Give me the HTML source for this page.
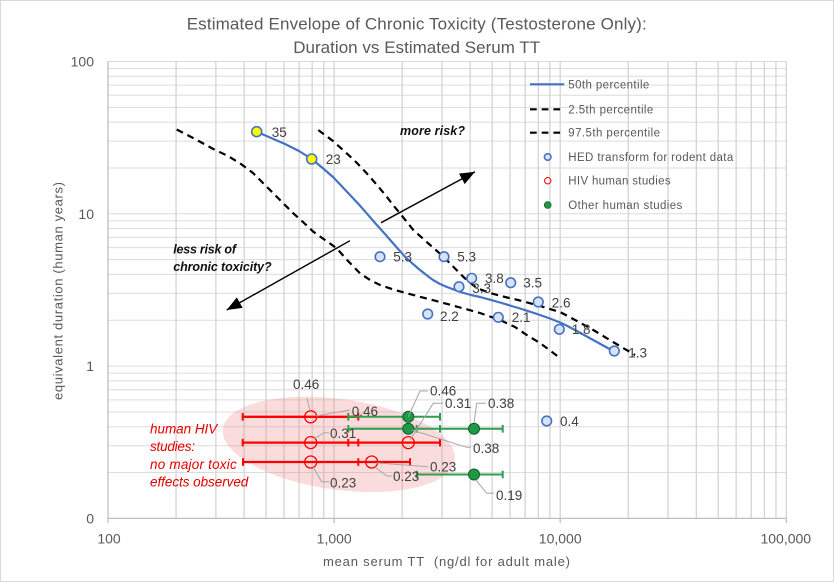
<!DOCTYPE html>
<html><head><meta charset="utf-8"><style>
html,body{margin:0;padding:0;background:#fff;}
svg{display:block;}
text{font-family:"Liberation Sans",Arial,sans-serif;}
</style></head><body>
<svg width="834" height="582" viewBox="0 0 834 582" xmlns="http://www.w3.org/2000/svg">
<defs>
<marker id="ah" markerUnits="userSpaceOnUse" markerWidth="16" markerHeight="14" refX="15" refY="7" orient="auto">
<path d="M0,1 L15,7 L0,13 z" fill="#000"/>
</marker>
</defs>
<rect x="0.5" y="0.5" width="833" height="581" fill="#fff" stroke="#d9d9d9"/>
<!-- horizontal grid -->
<g stroke="#dcdcdc" stroke-width="1">
<line x1="108" x2="786.3" y1="68.47" y2="68.47"/><line x1="108" x2="786.3" y1="76.26" y2="76.26"/><line x1="108" x2="786.3" y1="85.09" y2="85.09"/><line x1="108" x2="786.3" y1="95.29" y2="95.29"/><line x1="108" x2="786.3" y1="107.35" y2="107.35"/><line x1="108" x2="786.3" y1="122.11" y2="122.11"/><line x1="108" x2="786.3" y1="141.13" y2="141.13"/><line x1="108" x2="786.3" y1="167.95" y2="167.95"/><line x1="108" x2="786.3" y1="213.8" y2="213.8"/>
<line x1="108" x2="786.3" y1="220.77" y2="220.77"/><line x1="108" x2="786.3" y1="228.56" y2="228.56"/><line x1="108" x2="786.3" y1="237.39" y2="237.39"/><line x1="108" x2="786.3" y1="247.59" y2="247.59"/><line x1="108" x2="786.3" y1="259.65" y2="259.65"/><line x1="108" x2="786.3" y1="274.41" y2="274.41"/><line x1="108" x2="786.3" y1="293.43" y2="293.43"/><line x1="108" x2="786.3" y1="320.25" y2="320.25"/><line x1="108" x2="786.3" y1="366.1" y2="366.1"/>
<line x1="108" x2="786.3" y1="373.07" y2="373.07"/><line x1="108" x2="786.3" y1="380.86" y2="380.86"/><line x1="108" x2="786.3" y1="389.69" y2="389.69"/><line x1="108" x2="786.3" y1="399.89" y2="399.89"/><line x1="108" x2="786.3" y1="411.95" y2="411.95"/><line x1="108" x2="786.3" y1="426.71" y2="426.71"/><line x1="108" x2="786.3" y1="445.73" y2="445.73"/><line x1="108" x2="786.3" y1="472.55" y2="472.55"/>
<line x1="108" x2="786.3" y1="61.5" y2="61.5"/>
</g>
<!-- vertical grid -->
<g stroke="#d4d4d4" stroke-width="1.3">
<line y1="61.5" y2="518.4" x1="176.06" x2="176.06"/><line y1="61.5" y2="518.4" x1="215.88" x2="215.88"/><line y1="61.5" y2="518.4" x1="244.13" x2="244.13"/><line y1="61.5" y2="518.4" x1="266.04" x2="266.04"/><line y1="61.5" y2="518.4" x1="283.94" x2="283.94"/><line y1="61.5" y2="518.4" x1="299.08" x2="299.08"/><line y1="61.5" y2="518.4" x1="312.19" x2="312.19"/><line y1="61.5" y2="518.4" x1="323.75" x2="323.75"/><line y1="61.5" y2="518.4" x1="334.1" x2="334.1"/>
<line y1="61.5" y2="518.4" x1="402.16" x2="402.16"/><line y1="61.5" y2="518.4" x1="441.98" x2="441.98"/><line y1="61.5" y2="518.4" x1="470.23" x2="470.23"/><line y1="61.5" y2="518.4" x1="492.14" x2="492.14"/><line y1="61.5" y2="518.4" x1="510.04" x2="510.04"/><line y1="61.5" y2="518.4" x1="525.18" x2="525.18"/><line y1="61.5" y2="518.4" x1="538.29" x2="538.29"/><line y1="61.5" y2="518.4" x1="549.85" x2="549.85"/><line y1="61.5" y2="518.4" x1="560.2" x2="560.2"/>
<line y1="61.5" y2="518.4" x1="628.26" x2="628.26"/><line y1="61.5" y2="518.4" x1="668.08" x2="668.08"/><line y1="61.5" y2="518.4" x1="696.33" x2="696.33"/><line y1="61.5" y2="518.4" x1="718.24" x2="718.24"/><line y1="61.5" y2="518.4" x1="736.14" x2="736.14"/><line y1="61.5" y2="518.4" x1="751.28" x2="751.28"/><line y1="61.5" y2="518.4" x1="764.39" x2="764.39"/><line y1="61.5" y2="518.4" x1="775.95" x2="775.95"/><line y1="61.5" y2="518.4" x1="786.3" x2="786.3"/>
</g>
<!-- axes -->
<g stroke="#bfbfbf" stroke-width="1.3">
<line x1="108" x2="786.3" y1="518.4" y2="518.4"/>
<line x1="108" x2="108" y1="61.5" y2="518.4"/>
<line x1="108" x2="108" y1="518.4" y2="523"/><line x1="334.1" x2="334.1" y1="518.4" y2="523"/><line x1="560.2" x2="560.2" y1="518.4" y2="523"/><line x1="786.3" x2="786.3" y1="518.4" y2="523"/>
</g>
<!-- titles -->
<g fill="#595959">
<text x="416.7" y="29.3" font-size="17" text-anchor="middle" textLength="460">Estimated Envelope of Chronic Toxicity (Testosterone Only):</text>
<text x="416.7" y="52.8" font-size="17" text-anchor="middle" textLength="247">Duration vs Estimated Serum TT</text>
<text x="446.5" y="566" font-size="13" text-anchor="middle" textLength="247">mean serum TT&#160; (ng/dl for adult male)</text>
<text transform="translate(62.5,291) rotate(-90)" x="0" y="0" font-size="13" text-anchor="middle" textLength="218">equivalent duration (human years)</text>
<g font-size="14">
<text x="94" y="66.5" text-anchor="end">100</text>
<text x="94" y="218.8" text-anchor="end">10</text>
<text x="94" y="371" text-anchor="end">1</text>
<text x="94" y="523.3" text-anchor="end">0</text>
<text x="109" y="543.3" text-anchor="middle">100</text>
<text x="334.2" y="543.3" text-anchor="middle">1,000</text>
<text x="560.2" y="543.3" text-anchor="middle">10,000</text>
<text x="785.8" y="543.3" text-anchor="middle">100,000</text>
</g>
</g>
<!-- pink ellipse -->
<ellipse cx="338.8" cy="444.4" rx="117" ry="45.4" transform="rotate(7.75 338.8 444.4)" fill="#f08080" fill-opacity="0.28"/>
<!-- curves -->
<polyline fill="none" stroke="#4472c4" stroke-width="2.2" stroke-linejoin="round" points="256.7,131.7 270,137.5 285,144 299,151 311.7,159 322,167.5 333,177 342,186.5 350,195 358.5,204 366.7,213.3 375.5,223.5 385,234 395,245.5 405,256.7 413,264 420,270 427,275.5 433,280 440,284 447,287 455,290 462,292.5 471,295 480,297 490,299.7 500,302.5 510,305.5 520,308.5 530,311.7 540,315 550,318.5 560,322.5 567.5,326 575,330 585,335.5 595,341 605,346.5 614.3,351.7"/>
<polyline fill="none" stroke="#000" stroke-width="2.2" stroke-dasharray="7,5" stroke-linejoin="round" points="176.7,129.5 195,139 213.3,149 228,156 240,163.3 253,173 266.7,186.7 280,200 293.3,213.3 303,222 313.3,231.7 325,240 336.7,248.3 348,261 360,273.3 370,280 380,285 395,290 413.3,295 440,302 460,307.5 480,313 500,320 515,327 526.7,335 540,343 558.3,356.7"/>
<polyline fill="none" stroke="#000" stroke-width="2.2" stroke-dasharray="7,5" stroke-linejoin="round" points="318.3,130 333,141 346.7,153.3 357,163 366.7,173.3 377,185 386.7,196.7 393,205 400,213.3 413.3,230 426.7,242 437,251 446.7,260 456,269.5 464,277.5 476.7,288 490,293 505,297 520,300.5 540,306 560,312 577,321 593.3,330 613,342 635,355"/>
<!-- arrows -->
<line x1="381" y1="222.7" x2="475" y2="171.7" stroke="#000" stroke-width="1.4" marker-end="url(#ah)"/>
<line x1="350" y1="240.7" x2="226.7" y2="310" stroke="#000" stroke-width="1.4" marker-end="url(#ah)"/>
<g font-size="12.5" font-weight="bold" font-style="italic" fill="#111">
<text x="400" y="135" textLength="65">more risk?</text>
<text x="173.3" y="253.5" textLength="62.7">less risk of</text>
<text x="173.3" y="271" textLength="98.3">chronic toxicity?</text>
</g>
<!-- error bars red -->
<g stroke="#ff0000" stroke-width="2.3" fill="none">
<line x1="242.7" x2="358.3" y1="416.8" y2="416.8"/>
<line x1="242.7" x2="440" y1="442.6" y2="442.6"/>
<line x1="243" x2="410" y1="462" y2="462"/>
</g>
<g stroke="#ff0000" stroke-width="2" fill="none">
<line x1="242.7" x2="242.7" y1="413" y2="420.6"/><line x1="358.3" x2="358.3" y1="413" y2="420.6"/>
<line x1="242.7" x2="242.7" y1="438.8" y2="446.4"/><line x1="348.3" x2="348.3" y1="438.8" y2="446.4"/><line x1="358.3" x2="358.3" y1="438.8" y2="446.4"/><line x1="440" x2="440" y1="438.8" y2="446.4"/>
<line x1="243" x2="243" y1="458.2" y2="465.8"/><line x1="358.3" x2="358.3" y1="458.2" y2="465.8"/><line x1="410" x2="410" y1="458.2" y2="465.8"/>
</g>
<!-- error bars green -->
<g stroke="#2e9e4f" stroke-width="2" fill="none">
<line x1="348.3" x2="440" y1="416.8" y2="416.8"/>
<line x1="348.3" x2="502.7" y1="428.8" y2="428.8"/>
<line x1="416.7" x2="502.7" y1="474.5" y2="474.5"/>
<line x1="348.3" x2="348.3" y1="413" y2="420.6"/><line x1="440" x2="440" y1="413" y2="420.6"/>
<line x1="348.3" x2="348.3" y1="425" y2="432.6"/><line x1="416.7" x2="416.7" y1="425" y2="432.6"/><line x1="440" x2="440" y1="425" y2="432.6"/><line x1="502.7" x2="502.7" y1="425" y2="432.6"/>
<line x1="416.7" x2="416.7" y1="470.7" y2="478.3"/><line x1="502.7" x2="502.7" y1="470.7" y2="478.3"/>
</g>
<!-- red open circles -->
<g stroke="#ff0000" stroke-width="1.3" fill="none">
<circle cx="310.7" cy="416.8" r="6"/>
<circle cx="310.7" cy="442.6" r="6"/>
<circle cx="310.7" cy="462" r="6"/>
<circle cx="371.7" cy="462" r="6"/>
<circle cx="408.3" cy="442.6" r="6"/>
</g>
<!-- green circles -->
<g stroke="#145c2a" stroke-width="1" fill="#1e9a47">
<circle cx="408.3" cy="416.8" r="5.5"/>
<circle cx="408.3" cy="428.8" r="5.5"/>
<circle cx="474" cy="428.8" r="5.5"/>
<circle cx="474" cy="474.5" r="5.5"/>
</g>
<!-- blue markers -->
<g stroke="#4472c4" stroke-width="1.6" fill="#dae3f3">
<circle cx="380" cy="256.7" r="4.8"/>
<circle cx="444" cy="256.7" r="4.8"/>
<circle cx="459" cy="286.7" r="4.8"/>
<circle cx="471.7" cy="278.3" r="4.8"/>
<circle cx="510.7" cy="282.7" r="4.8"/>
<circle cx="538.3" cy="302" r="4.8"/>
<circle cx="427.7" cy="314" r="4.8"/>
<circle cx="498.3" cy="317.3" r="4.8"/>
<circle cx="559.3" cy="329.3" r="4.8"/>
<circle cx="614.3" cy="351" r="4.8"/>
<circle cx="546.7" cy="421" r="4.8"/>
</g>
<g stroke="#4472c4" stroke-width="1.6" fill="#ffff00">
<circle cx="256.7" cy="131.7" r="5"/>
<circle cx="311.7" cy="159" r="5"/>
</g>
<!-- leader lines -->
<g stroke="#a6a6a6" stroke-width="1" fill="none">
<polyline points="307,398 310,411"/>
<polyline points="316,416 350,410"/>
<polyline points="314,439 324,432.7 329,432.7"/>
<polyline points="313,467 321.7,481.7 329,481.7"/>
<polyline points="375,467 386.7,476 392,476"/>
<polyline points="377,463 428,466.7"/>
<polyline points="408.3,416.8 420,391 428,391"/>
<polyline points="410,440 433.3,403.3 443,403.3"/>
<polyline points="474,423 476.7,403.3 486,403.3"/>
<polyline points="412,430 466.7,447.3 471,447.3"/>
<polyline points="476,480 486.7,493.3 494,493.3"/>
</g>
<!-- data labels -->
<g font-size="13.5" fill="#404040">
<text x="271.7" y="137">35</text>
<text x="325.7" y="163.8">23</text>
<text x="393.3" y="261.5">5.3</text>
<text x="457.3" y="261.5">5.3</text>
<text x="472.3" y="293">3.3</text>
<text x="485" y="283">3.8</text>
<text x="523.3" y="287.5">3.5</text>
<text x="551.7" y="307.5">2.6</text>
<text x="440" y="320.8">2.2</text>
<text x="511.7" y="322">2.1</text>
<text x="571.7" y="334">1.8</text>
<text x="628.3" y="357.5">1.3</text>
<text x="560" y="425.8">0.4</text>
<text x="293" y="389">0.46</text>
<text x="351.7" y="415.8">0.46</text>
<text x="330" y="438">0.31</text>
<text x="330" y="487.5">0.23</text>
<text x="393" y="480.8">0.23</text>
<text x="430" y="471.5">0.23</text>
<text x="430" y="395.5">0.46</text>
<text x="445" y="408">0.31</text>
<text x="488" y="408">0.38</text>
<text x="473" y="453">0.38</text>
<text x="496" y="499.8">0.19</text>
</g>
<!-- red annotation -->
<g font-size="13.5" font-style="italic" fill="#e60000">
<text x="150" y="433.3" textLength="67.3">human HIV</text>
<text x="150" y="451" textLength="45">studies:</text>
<text x="150" y="469" textLength="86.7">no major toxic</text>
<text x="150" y="486.7" textLength="98.3">effects observed</text>
</g>
<!-- legend -->
<line x1="530" x2="564.3" y1="84.3" y2="84.3" stroke="#4472c4" stroke-width="2.2"/>
<line x1="530" x2="564.3" y1="109.3" y2="109.3" stroke="#000" stroke-width="2.2" stroke-dasharray="6.7,5"/>
<line x1="530" x2="564.3" y1="132.7" y2="132.7" stroke="#000" stroke-width="2.2" stroke-dasharray="6.7,5"/>
<circle cx="547.7" cy="157" r="3.3" fill="#dae3f3" stroke="#4472c4" stroke-width="1.6"/>
<circle cx="547.7" cy="180.7" r="3.2" fill="none" stroke="#ff0000" stroke-width="1"/>
<circle cx="547.7" cy="205" r="3.4" fill="#1e9a47" stroke="#145c2a" stroke-width="0.8"/>
<g font-size="11.5" fill="#595959">
<text x="568.3" y="88.3" textLength="81">50th percentile</text>
<text x="568.3" y="113.3" textLength="85">2.5th percentile</text>
<text x="568.3" y="136.7" textLength="91.7">97.5th percentile</text>
<text x="568.3" y="161" textLength="165">HED transform for rodent data</text>
<text x="568.3" y="184.7" textLength="102.3">HIV human studies</text>
<text x="568.3" y="209" textLength="114">Other human studies</text>
</g>
</svg>
</body></html>
